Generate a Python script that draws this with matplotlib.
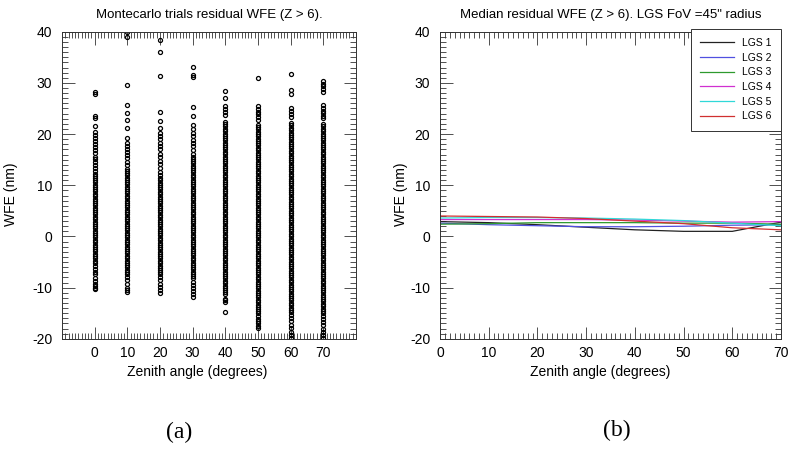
import matplotlib
matplotlib.use('Agg')
import matplotlib.pyplot as plt
from matplotlib.ticker import MultipleLocator

plt.rcParams['font.family'] = ['Liberation Sans', 'DejaVu Sans']
plt.rcParams['axes.unicode_minus'] = False

# ---- panel (a): Montecarlo trials, WFE (nm) per zenith angle ----
zenith = [0, 10, 20, 30, 40, 50, 60, 70]

wfe_z00 = [28.3, 27.8, 23.6, 23.2, 21.6, 20.4, 19.8, 19.2, 18.6, 18.0, 17.4, 16.9, 16.3, 15.6,
           15.1, 14.5, 13.9, 13.4, 12.8, 12.3, 11.9, 11.5, 11.0, 10.6, 10.1, 9.7, 9.2, 8.8, 8.3,
           7.9, 7.4, 7.0, 6.5, 6.1, 5.6, 5.2, 4.7, 4.3, 3.8, 3.4, 2.9, 2.5, 2.0, 1.6, 1.1, 0.7,
           0.2, -0.2, -0.7, -1.1, -1.6, -2.0, -2.5, -2.9, -3.4, -3.8, -4.3, -4.7, -5.2, -5.7,
           -6.3, -6.9, -7.4, -8.1, -8.7, -9.2, -9.6, -10.0, -10.2]
wfe_z10 = [39.9, 39.0, 29.6, 25.7, 24.1, 22.7, 21.2, 19.3, 18.2, 17.6, 17.1, 16.5, 16.0, 15.3,
           14.6, 13.9, 13.2, 12.8, 12.4, 12.0, 11.5, 11.1, 10.6, 10.2, 9.7, 9.3, 8.8, 8.4, 7.9,
           7.5, 7.0, 6.6, 6.1, 5.7, 5.2, 4.8, 4.3, 3.9, 3.4, 3.0, 2.5, 2.1, 1.6, 1.2, 0.7, 0.3,
           -0.2, -0.6, -1.1, -1.5, -2.0, -2.4, -2.9, -3.3, -3.8, -4.2, -4.7, -5.1, -5.6, -6.0,
           -6.5, -7.0, -7.3, -7.9, -8.6, -9.3, -10.0, -10.5, -10.9]
wfe_z20 = [38.3, 36.1, 31.4, 24.3, 22.6, 21.1, 20.3, 19.6, 19.0, 18.3, 17.6, 17.0, 16.2, 15.5,
           14.8, 14.1, 13.3, 12.6, 12.0, 11.4, 11.0, 10.5, 10.1, 9.6, 9.2, 8.7, 8.3, 7.8, 7.4,
           6.9, 6.5, 6.0, 5.6, 5.1, 4.7, 4.2, 3.8, 3.3, 2.9, 2.4, 2.0, 1.5, 1.1, 0.6, 0.2, -0.3,
           -0.7, -1.2, -1.6, -2.1, -2.5, -3.0, -3.4, -3.9, -4.3, -4.8, -5.2, -5.7, -6.1, -6.6,
           -7.0, -7.4, -8.0, -8.6, -9.3, -9.9, -10.5, -11.1]
wfe_z30 = [33.1, 31.6, 31.1, 25.3, 23.6, 21.8, 21.0, 20.2, 19.6, 18.9, 18.3, 17.6, 16.9, 16.2,
           15.6, 15.2, 14.7, 14.3, 13.8, 13.4, 12.9, 12.5, 12.0, 11.6, 11.1, 10.7, 10.2, 9.8,
           9.3, 8.9, 8.4, 8.0, 7.5, 7.1, 6.6, 6.2, 5.7, 5.3, 4.8, 4.4, 3.9, 3.5, 3.0, 2.6, 2.1,
           1.7, 1.2, 0.8, 0.3, -0.1, -0.6, -1.0, -1.5, -1.9, -2.4, -2.8, -3.3, -3.7, -4.2, -4.6,
           -5.1, -5.5, -6.0, -6.4, -6.9, -7.3, -7.7, -8.1, -8.8, -9.4, -10.1, -10.7, -11.3, -11.9]
wfe_z40 = [28.4, 27.0, 25.4, 24.9, 24.3, 23.7, 22.4, 21.9, 21.5, 21.0, 20.6, 20.1, 19.7, 19.2,
           18.8, 18.3, 17.9, 17.4, 17.0, 16.5, 16.1, 15.6, 15.2, 14.7, 14.3, 13.8, 13.4, 12.9,
           12.5, 12.0, 11.6, 11.1, 10.7, 10.2, 9.8, 9.3, 8.9, 8.4, 8.0, 7.5, 7.1, 6.6, 6.2, 5.7,
           5.3, 4.8, 4.4, 3.9, 3.5, 3.0, 2.6, 2.1, 1.7, 1.2, 0.8, 0.3, -0.1, -0.6, -1.0, -1.5,
           -1.9, -2.4, -2.8, -3.3, -3.7, -4.2, -4.6, -5.1, -5.5, -6.0, -6.4, -6.9, -7.3, -7.8,
           -8.2, -8.7, -9.1, -9.6, -10.0, -10.5, -10.9, -11.2, -12.2, -12.5, -12.9, -14.7]
wfe_z50 = [30.9, 25.4, 24.9, 24.4, 23.9, 23.3, 22.7, 21.8, 21.4, 20.9, 20.5, 20.0, 19.6, 19.1,
           18.7, 18.2, 17.8, 17.3, 16.9, 16.4, 16.0, 15.5, 15.1, 14.6, 14.2, 13.7, 13.3, 12.8,
           12.4, 11.9, 11.5, 11.0, 10.6, 10.1, 9.7, 9.2, 8.8, 8.3, 7.9, 7.4, 7.0, 6.5, 6.1, 5.6,
           5.2, 4.7, 4.3, 3.8, 3.4, 2.9, 2.5, 2.0, 1.6, 1.1, 0.7, 0.2, -0.2, -0.7, -1.1, -1.6,
           -2.0, -2.5, -2.9, -3.4, -3.8, -4.3, -4.7, -5.2, -5.6, -6.1, -6.5, -7.0, -7.4, -7.9,
           -8.3, -8.8, -9.2, -9.7, -10.1, -10.6, -11.0, -11.5, -11.9, -12.4, -12.8, -13.3, -13.7,
           -14.2, -14.6, -15.0, -15.6, -16.1, -16.5, -17.0, -17.4, -17.8]
wfe_z60 = [31.8, 28.6, 27.9, 25.1, 24.5, 23.9, 23.3, 22.1, 21.7, 21.2, 20.8, 20.3, 19.9, 19.4,
           19.0, 18.5, 18.1, 17.6, 17.2, 16.7, 16.3, 15.8, 15.4, 14.9, 14.5, 14.0, 13.6, 13.1,
           12.7, 12.2, 11.8, 11.3, 10.9, 10.4, 10.0, 9.5, 9.1, 8.6, 8.2, 7.7, 7.3, 6.8, 6.4, 5.9,
           5.5, 5.0, 4.6, 4.1, 3.7, 3.2, 2.8, 2.3, 1.9, 1.4, 1.0, 0.5, 0.1, -0.4, -0.8, -1.3,
           -1.7, -2.2, -2.6, -3.1, -3.5, -4.0, -4.4, -4.9, -5.3, -5.8, -6.2, -6.7, -7.1, -7.6,
           -8.0, -8.5, -8.9, -9.4, -9.8, -10.3, -10.7, -11.2, -11.6, -12.1, -12.5, -13.0, -13.4,
           -13.9, -14.3, -14.8, -15.4, -15.9, -16.6, -17.2, -17.9, -18.6, -19.3, -19.9]
wfe_z70 = [30.3, 29.8, 29.3, 28.8, 28.3, 25.7, 25.1, 24.6, 24.1, 23.6, 23.1, 21.9, 21.5, 21.0,
           20.6, 20.1, 19.7, 19.2, 18.8, 18.3, 17.9, 17.4, 17.0, 16.5, 16.1, 15.6, 15.2, 14.7,
           14.3, 13.8, 13.4, 12.9, 12.5, 12.0, 11.6, 11.1, 10.7, 10.2, 9.8, 9.3, 8.9, 8.4, 8.0,
           7.5, 7.1, 6.6, 6.2, 5.7, 5.3, 4.8, 4.4, 3.9, 3.5, 3.0, 2.6, 2.1, 1.7, 1.2, 0.8, 0.3,
           -0.1, -0.6, -1.0, -1.5, -1.9, -2.4, -2.8, -3.3, -3.7, -4.2, -4.6, -5.1, -5.5, -6.0,
           -6.4, -6.9, -7.3, -7.8, -8.2, -8.7, -9.1, -9.6, -10.0, -10.5, -10.9, -11.4, -11.8,
           -12.3, -12.7, -13.2, -13.6, -14.1, -14.5, -15.0, -15.5, -16.1, -16.8, -17.3, -18.0,
           -18.7, -19.3, -19.9]

wfe_trials = [wfe_z00, wfe_z10, wfe_z20, wfe_z30, wfe_z40, wfe_z50, wfe_z60, wfe_z70]

# ---- panel (b): median residual WFE (nm) per LGS ----
zen_b = [0, 10, 20, 30, 40, 50, 60, 70]
lgs1 = [2.9, 2.7, 2.3, 1.8, 1.3, 1.0, 1.0, 2.8]
lgs2 = [2.6, 2.3, 2.1, 1.9, 1.9, 2.0, 2.2, 2.3]
lgs3 = [2.4, 2.5, 2.7, 2.7, 2.7, 2.6, 2.6, 2.4]
lgs4 = [3.3, 3.3, 3.3, 3.3, 3.2, 3.0, 2.8, 2.9]
lgs5 = [3.6, 3.7, 3.7, 3.6, 3.4, 3.1, 2.6, 2.1]
lgs6 = [4.0, 3.9, 3.8, 3.5, 3.0, 2.5, 1.7, 1.3]
lgs_names = ['LGS 1', 'LGS 2', 'LGS 3', 'LGS 4', 'LGS 5', 'LGS 6']
lgs_colors = ['#222222', '#5050e0', '#2e9a2e', '#d030d0', '#30d8d8', '#d03030']


def style_axes(ax):
    ax.set_ylim(-20, 40)
    ax.yaxis.set_major_locator(MultipleLocator(10))
    ax.yaxis.set_minor_locator(MultipleLocator(1))
    ax.xaxis.set_minor_locator(MultipleLocator(1))
    ax.tick_params(which='both', direction='in', top=True, right=True,
                   width=0.6, colors='#333333', labelcolor='black', labelsize=10)
    ax.tick_params(which='major', length=9)
    ax.tick_params(which='minor', length=4.5)
    ax.tick_params(axis='y', pad=7)
    ax.tick_params(axis='x', pad=5)
    for sp in ax.spines.values():
        sp.set_linewidth(0.7)
        sp.set_color('#333333')
    ax.set_ylabel('WFE (nm)', fontsize=10)


fig = plt.figure(figsize=(7.9, 4.53), dpi=100)

# panel (a)
ax1 = fig.add_axes([0.0785, 0.252, 0.372, 0.678])
for z, vals in zip(zenith, wfe_trials):
    ax1.plot([z] * len(vals), vals, 'o', ls='none', ms=2.9, mfc='none',
             mec='black', mew=0.9)
ax1.set_xlim(-10, 80)
ax1.set_xticks(zenith)
style_axes(ax1)
ax1.set_title('Montecarlo trials residual WFE (Z > 6).', fontsize=9.5, pad=10)
ax1.set_xlabel('Zenith angle (degrees)', fontsize=10)
ax1.xaxis.set_label_coords(0.46, -0.085)
ax1.yaxis.set_label_coords(-0.15, 0.47)

# panel (b)
ax2 = fig.add_axes([0.557, 0.252, 0.4316, 0.678])
for vals, name, col in zip([lgs1, lgs2, lgs3, lgs4, lgs5, lgs6], lgs_names, lgs_colors):
    ax2.plot(zen_b, vals, color=col, lw=0.9, label=name)
ax2.set_xlim(0, 70)
ax2.set_xticks(zen_b)
style_axes(ax2)
ax2.set_title('Median residual WFE (Z > 6). LGS FoV =45" radius', fontsize=9.5, pad=10)
ax2.set_xlabel('Zenith angle (degrees)', fontsize=10)
ax2.xaxis.set_label_coords(0.47, -0.085)
ax2.yaxis.set_label_coords(-0.094, 0.47)
leg = ax2.legend(loc='upper right', bbox_to_anchor=(1.0, 1.01), borderaxespad=0,
                 fontsize=7.5, handlelength=3.2, labelspacing=0.45, fancybox=False,
                 framealpha=1, edgecolor='#333333', borderpad=0.9)
leg.get_frame().set_linewidth(0.7)

fig.text(0.227, 0.045, '(a)', fontsize=17, family='Liberation Serif', ha='center', va='center')
fig.text(0.781, 0.05, '(b)', fontsize=17, family='Liberation Serif', ha='center', va='center')

fig.savefig('out.png', dpi=100)
